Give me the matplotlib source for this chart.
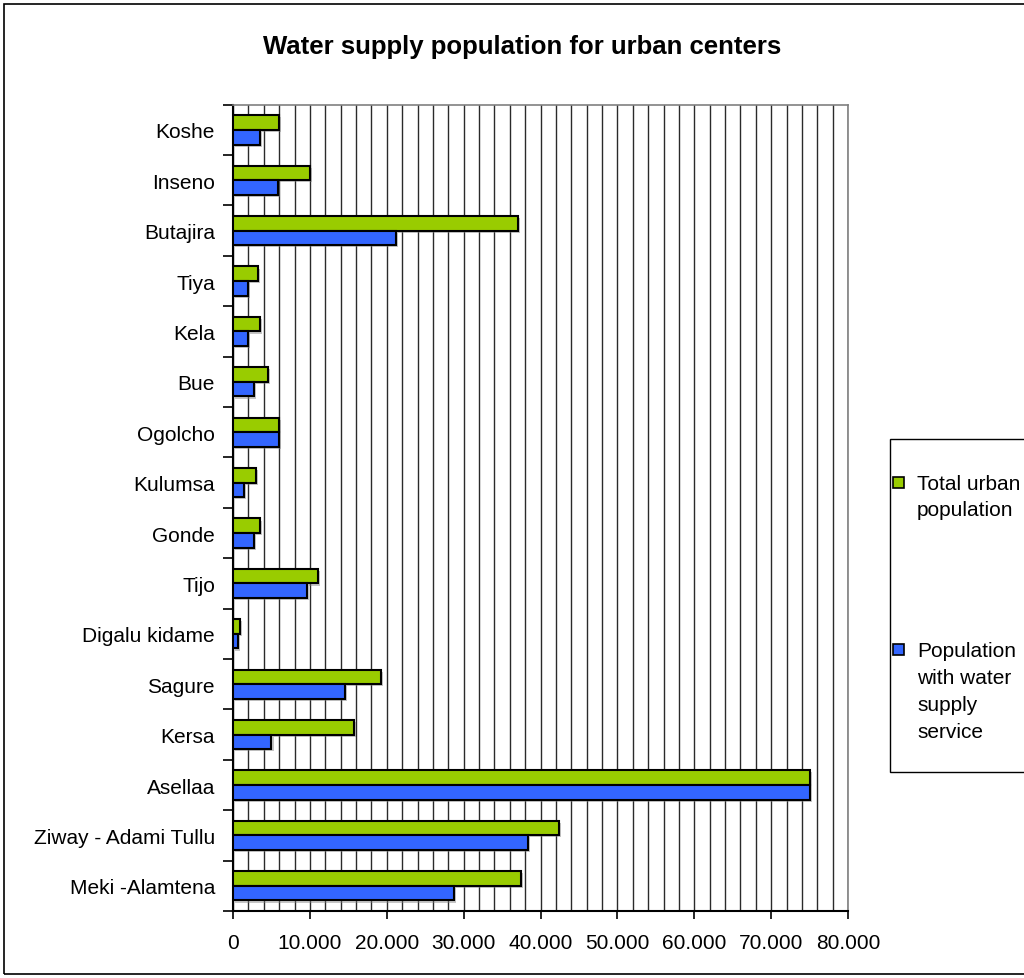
import numpy as np
import matplotlib.pyplot as plt
from matplotlib.patches import Rectangle
from matplotlib.ticker import MultipleLocator, FuncFormatter
import matplotlib.patheffects as pe

plt.rcParams['font.family'] = ['Liberation Sans', 'DejaVu Sans']

towns = ["Koshe", "Inseno", "Butajira", "Tiya", "Kela", "Bue", "Ogolcho", "Kulumsa",
         "Gonde", "Tijo", "Digalu kidame", "Sagure", "Kersa", "Asellaa",
         "Ziway - Adami Tullu", "Meki -Alamtena"]
total_pop = [6000, 10000, 37100, 3300, 3500, 4500, 6000, 2950,
             3500, 11100, 950, 19200, 15700, 75000, 42400, 37400]
served_pop = [3500, 5800, 21200, 1900, 1950, 2700, 6000, 1450,
              2700, 9600, 700, 14600, 5000, 75000, 38400, 28800]

W, H = 1024, 979
fig = plt.figure(figsize=(W / 100, H / 100), dpi=100)

def fx(px):
  return px / W

def fy(py):
  return 1 - py / H

# outer frame of the chart
fig.add_artist(Rectangle((fx(4), fy(975)), fx(1060), fy(5) - fy(975), transform=fig.transFigure,
                         fill=False, edgecolor="black", lw=1.2))

ax = fig.add_axes([fx(233), fy(912), fx(848) - fx(233), fy(105.7) - fy(912)])

y = np.arange(len(towns))
h = 0.29
shadow = [pe.SimplePatchShadow(offset=(1.5, -1.5), shadow_rgbFace="grey", alpha=0.45), pe.Normal()]
b1 = ax.barh(y - h / 2, total_pop, height=h, color="#99CC00", edgecolor="black", lw=1.5, zorder=3)
b2 = ax.barh(y + h / 2, served_pop, height=h, color="#3366FF", edgecolor="black", lw=1.5, zorder=3)
for b in list(b1) + list(b2):
  b.set_path_effects(shadow)

ax.set_xlim(0, 80000)
ax.set_ylim(len(towns) - 0.5, -0.5)

ax.xaxis.set_major_locator(MultipleLocator(10000))
ax.xaxis.set_minor_locator(MultipleLocator(2000))
ax.xaxis.set_major_formatter(FuncFormatter(lambda v, p: "0" if v == 0 else "{:,.0f}".format(v).replace(",", ".")))
ax.grid(axis="x", which="both", color="#2a2a2a", lw=1.0, zorder=0)

ax.set_yticks(y)
ax.set_yticklabels(towns)
ax.set_yticks(np.arange(len(towns) + 1) - 0.5, minor=True)
ax.tick_params(axis="y", which="major", length=0, pad=13, labelsize=15)
ax.tick_params(axis="y", which="minor", length=7, width=1.2, direction="out")
ax.tick_params(axis="x", which="major", length=6, width=1.2, pad=10, labelsize=15)
ax.tick_params(axis="x", which="minor", length=0)

for s in ["left", "bottom"]:
  ax.spines[s].set_color("black")
  ax.spines[s].set_linewidth(1.5)
for s in ["top", "right"]:
  ax.spines[s].set_color("#808080")
  ax.spines[s].set_linewidth(1.2)

fig.text(fx(522), fy(47), "Water supply population for urban centers", ha="center", va="center",
         fontsize=18.5, fontweight="bold")

# legend box, runs off the right edge
fig.add_artist(Rectangle((fx(890), fy(773)), fx(200), fy(440) - fy(773), transform=fig.transFigure,
                         facecolor="white", edgecolor="black", lw=1.0))
fig.add_artist(Rectangle((fx(893), fy(489)), fx(11), fy(478) - fy(489), transform=fig.transFigure,
                         facecolor="#99CC00", edgecolor="black", lw=1.2))
fig.add_artist(Rectangle((fx(893), fy(656)), fx(11), fy(645) - fy(656), transform=fig.transFigure,
                         facecolor="#3366FF", edgecolor="black", lw=1.2))
for i, line in enumerate(["Total urban", "population"]):
  fig.text(fx(917), fy(490 + 26 * i), line, fontsize=15, va="baseline")
for i, line in enumerate(["Population", "with water", "supply", "service"]):
  fig.text(fx(917), fy(657 + 27 * i), line, fontsize=15, va="baseline")

plt.savefig("out.png", format="png")
